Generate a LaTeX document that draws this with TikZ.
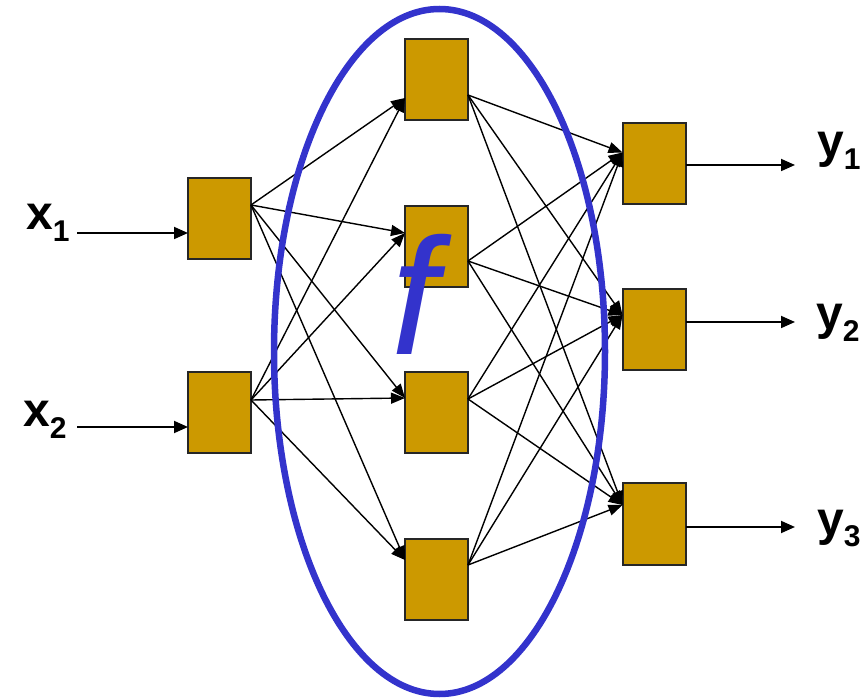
\documentclass[tikz,border=0pt]{standalone}
\usepackage{fontspec}
\setmainfont{Liberation Sans}
\usetikzlibrary{arrows.meta,shapes.geometric}
\definecolor{unitfill}{HTML}{CC9900}
\definecolor{setblue}{HTML}{3333CC}
\newcommand\subidx[1]{\raisebox{-12pt}{\fontsize{30}{30}\selectfont #1}}
\begin{document}
\begin{tikzpicture}[x=1pt,y=-1pt,
  unit/.style={draw=black!85, line width=2pt, fill=unitfill,
    minimum width=63pt, minimum height=81pt, inner sep=0pt, outer sep=0pt},
  link/.style={line width=1.4pt, -{Triangle[length=14pt,width=11pt]}},
  iolink/.style={line width=1.8pt, -{Triangle[length=14pt,width=12pt]}},
  lab/.style={anchor=base west, inner sep=0pt, font=\fontsize{48}{48}\bfseries\selectfont}]
\path[use as bounding box] (0,0) rectangle (868,700);

% units
\node[unit] (in1) at (219.5,219) {};
\node[unit] (in2) at (219.5,413) {};
\node[unit] (h1) at (436.5,80) {};
\node[unit] (h2) at (436.5,247) {};
\node[unit] (h3) at (436.5,413) {};
\node[unit] (h4) at (436.5,579) {};
\node[unit] (o1) at (654,163.5) {};
\node[unit] (o2) at (654,330) {};
\node[unit] (o3) at (654,524) {};

% connection points on the unit edges
\coordinate (in1a) at ([yshift=-14pt]in1.west);
\coordinate (in2a) at ([yshift=-14pt]in2.west);
\coordinate (in1b) at ([yshift=14pt]in1.east);
\coordinate (in2b) at ([yshift=13pt]in2.east);
\coordinate (h1a) at ([yshift=-18pt]h1.west);
\coordinate (h2a) at ([yshift=14pt]h2.west);
\coordinate (h3a) at ([yshift=15pt]h3.west);
\coordinate (h4a) at ([yshift=19pt]h4.west);
\coordinate (h1b) at ([yshift=-15pt]h1.east);
\coordinate (h2b) at ([yshift=-14pt]h2.east);
\coordinate (h3b) at ([yshift=14pt]h3.east);
\coordinate (h4b) at ([yshift=14pt]h4.east);
\coordinate (o1a) at ([yshift=11pt]o1.west);
\coordinate (o2a) at ([yshift=15pt]o2.west);
\coordinate (o3a) at ([yshift=19pt]o3.west);
\coordinate (o1b) at ([yshift=-1.5pt]o1.east);
\coordinate (o2b) at ([yshift=8pt]o2.east);
\coordinate (o3b) at ([yshift=-3pt]o3.east);

% free ends of the input and output arrows
\coordinate (x1s) at (77,233);
\coordinate (x2s) at (77,427);
\coordinate (y1e) at (795,165);
\coordinate (y2e) at (795,322);
\coordinate (y3e) at (795,527);

% labels
\node[lab] (x1) at (26,230) {x\subidx{1}};
\node[lab] (x2) at (23,427) {x\subidx{2}};
\node[lab] (y1) at (817,158) {y\subidx{1}};
\node[lab] (y2) at (816,330) {y\subidx{2}};
\node[lab] (y3) at (817,535) {y\subidx{3}};

% input and output arrows
\draw[iolink] (x1s) -- (in1a);
\draw[iolink] (x2s) -- (in2a);
\draw[iolink] (o1b) -- (y1e);
\draw[iolink] (o2b) -- (y2e);
\draw[iolink] (o3b) -- (y3e);

% input layer to hidden layer
\foreach \s in {in1b,in2b}
  \foreach \t in {h1a,h2a,h3a,h4a}
    \draw[link] (\s) -- (\t);

% hidden layer to output layer
\foreach \s in {h1b,h2b,h3b,h4b}
  \foreach \t in {o1a,o2a,o3a}
    \draw[link] (\s) -- (\t);

% the mapping f
\node[ellipse, draw=setblue, line width=6.5pt, minimum width=331pt,
  minimum height=685pt, inner sep=0pt] (fset) at (439.5,351.5) {};
\node[anchor=base west, inner sep=0pt, text=setblue,
  font=\fontsize{166}{166}\itshape\selectfont] (fname) at (391,355) {f};
\end{tikzpicture}
\end{document}
